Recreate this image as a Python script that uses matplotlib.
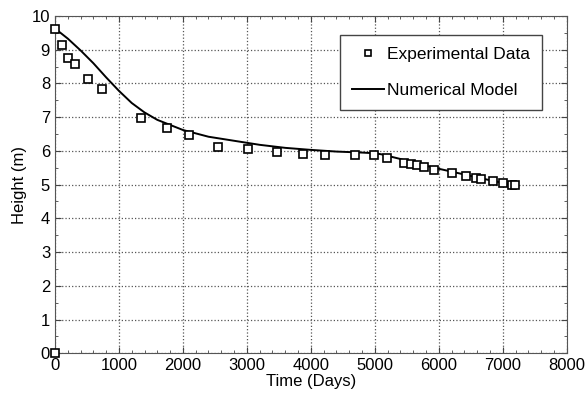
import matplotlib
matplotlib.use("Agg")
import matplotlib.pyplot as plt
from matplotlib.ticker import MultipleLocator

plt.rcParams['font.family'] = ['Liberation Sans', 'DejaVu Sans']

# experimental data (days, height m)
exp_t = [0, 0, 104, 198, 307, 516, 735, 1340, 1756, 2095, 2553, 3022, 3468,
         3873, 4221, 4690, 4988, 5186, 5457, 5561, 5665, 5769, 5926, 6207,
         6426, 6582, 6665, 6843, 7000, 7150, 7190]
exp_h = [9.61, 0.0, 9.14, 8.76, 8.57, 8.14, 7.83, 6.98, 6.67, 6.47, 6.13, 6.06, 5.98,
         5.92, 5.88, 5.88, 5.88, 5.78, 5.65, 5.61, 5.57, 5.53, 5.43, 5.34,
         5.26, 5.21, 5.16, 5.10, 5.04, 4.99, 4.98]

# numerical model
mod_t = [0, 200, 400, 600, 800, 1000, 1200, 1400, 1600, 2000, 2400, 2800,
         3200, 3600, 4000, 4400, 4800, 5000, 5100, 5400, 5600, 6000, 6400,
         6800, 7200]
mod_h = [9.63, 9.33, 8.98, 8.6, 8.18, 7.78, 7.42, 7.14, 6.92, 6.62, 6.42, 6.3,
         6.18, 6.09, 6.03, 5.98, 5.95, 5.93, 5.9, 5.76, 5.65, 5.47, 5.3,
         5.13, 4.97]

fig = plt.figure(figsize=(5.88, 3.96), dpi=100)
ax = fig.add_axes([0.0935, 0.108, 0.8703, 0.8516])

ax.plot(exp_t, exp_h, 's', mfc='white', mec='black', ms=6, mew=1.2,
        label='Experimental Data', clip_on=False, zorder=3)
ax.plot(mod_t, mod_h, '-', color='black', lw=1.4, label='Numerical Model',
        zorder=2)

ax.set_xlim(0, 8000)
ax.set_ylim(0, 10)
ax.xaxis.set_major_locator(MultipleLocator(1000))
ax.xaxis.set_minor_locator(MultipleLocator(200))
ax.yaxis.set_major_locator(MultipleLocator(1))
ax.yaxis.set_minor_locator(MultipleLocator(0.5))
ax.tick_params(which='both', direction='in', top=True, right=True,
               color='#444444', labelsize=12)
ax.tick_params(which='major', length=4)
ax.tick_params(which='minor', length=2.5)
for s in ax.spines.values():
    s.set_color('#555555')
ax.grid(True, which='major', linestyle=':', color='#555555', lw=0.9)

ax.set_xlabel('Time (Days)', fontsize=12, labelpad=1)
ax.set_ylabel('Height (m)', fontsize=12, labelpad=3)

leg = ax.legend(loc='upper right', bbox_to_anchor=(0.952, 0.944),
                borderaxespad=0, fontsize=12.5,
                fancybox=False, framealpha=1, edgecolor='#444444',
                handlelength=1.8, borderpad=0.7, labelspacing=1.2,
                handletextpad=0.2)
leg.get_frame().set_linewidth(1.0)
leg.legend_handles[0].set_markersize(5)

fig.savefig('out.png', dpi=100)
